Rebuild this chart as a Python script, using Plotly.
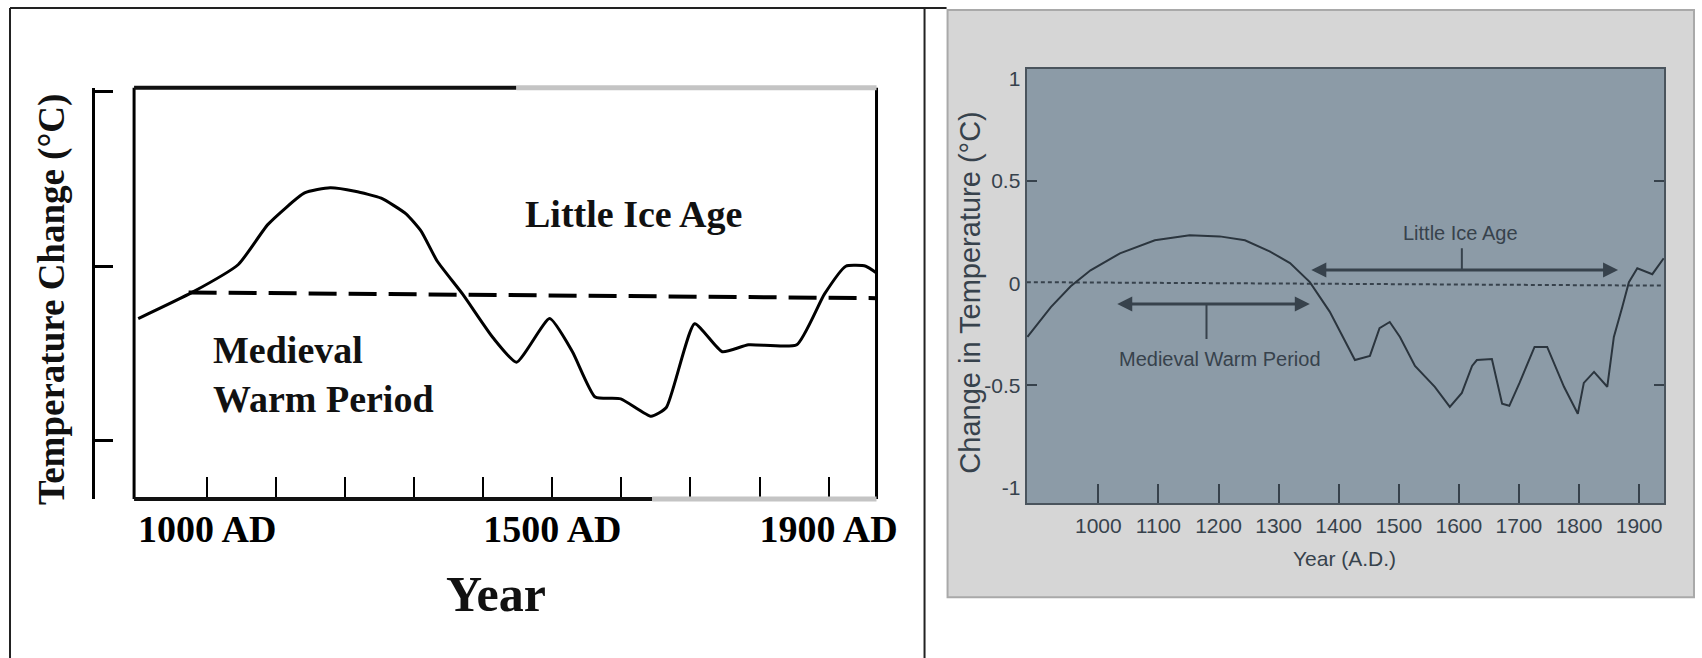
import plotly.graph_objects as go

W, H = 1702, 658
FIG_W = 1724  # rendered width; the photographed page is squeezed back to 1702

# ---------------- LEFT CHART DATA (schematic, arbitrary units) ----------------
left_years = [900, 978, 1045, 1088, 1141, 1178, 1214, 1252, 1288, 1310, 1333, 1370,
              1414, 1448, 1496, 1529, 1562, 1599, 1643, 1665, 1706, 1746, 1784, 1854,
              1894, 1925, 1954, 1970]
left_temp = [-0.30, -0.15, 0.01, 0.24, 0.42, 0.45, 0.43, 0.39, 0.30, 0.20, 0.03, -0.16,
             -0.41, -0.55, -0.30, -0.49, -0.75, -0.76, -0.86, -0.81, -0.33, -0.49, -0.45, -0.45,
             -0.16, 0.0, 0.0, -0.04]
left_ref_years = [973, 1969]
left_ref_vals = [-0.15, -0.183]
left_tick_years = [1000, 1100, 1200, 1300, 1400, 1500, 1600, 1700, 1800, 1900]
left_tick_text = ["1000 AD", "", "", "", "", "1500 AD", "", "", "", "1900 AD"]
left_ytick_vals = [-1, 0, 1]

# ---------------- RIGHT CHART DATA ----------------
right_years = [882, 921, 954, 987, 1036, 1094, 1152, 1202, 1244, 1285, 1319, 1352,
               1385, 1410, 1427, 1452, 1468, 1485, 1502, 1527, 1560, 1585, 1605, 1622,
               1630, 1655, 1672, 1684, 1701, 1726, 1747, 1775, 1798, 1808, 1825, 1847,
               1858, 1872, 1883, 1897, 1922, 1941]
right_temp = [-0.263, -0.117, -0.015, 0.063, 0.146, 0.21, 0.234, 0.229, 0.21, 0.156, 0.098, 0.005,
              -0.139, -0.283, -0.376, -0.356, -0.22, -0.19, -0.263, -0.405, -0.507, -0.605, -0.537, -0.405,
              -0.376, -0.371, -0.59, -0.6, -0.488, -0.312, -0.312, -0.507, -0.639, -0.488, -0.434, -0.507,
              -0.263, -0.117, 0.005, 0.073, 0.044, 0.122]
right_ref_years = [881, 1941]
right_ref_vals = [0.005, -0.012]
right_tick_years = [1000, 1100, 1200, 1300, 1400, 1500, 1600, 1700, 1800, 1900]
right_ytick_vals = [-1, -0.5, 0, 0.5, 1]
right_ytick_text = ["-1", "-0.5", "0", "0.5", "1"]
right_minor_ticks = [-0.5, 0.5]
lia_span = [1352, 1865]
lia_level = 0.065
lia_stem = [0.065, 0.171]
lia_stem_year = 1605
mwp_span = [1029, 1352]
mwp_level = -0.102
mwp_stem = [-0.102, -0.273]
mwp_stem_year = 1180

SERIF = "Liberation Serif, Times New Roman, serif"
SANS = "Liberation Sans, Arial, sans-serif"
INK = "#37424c"
CURVE = "#2b353e"
PLOTBG = "#8c9ba7"
PANEL = "#d6d6d6"


def px(x):
    return x / W


def py(y):
    return 1 - y / H


fig = go.Figure()

# Left curve + dashed reference
fig.add_trace(go.Scatter(x=left_years, y=left_temp, mode="lines",
                         line=dict(color="black", width=3, shape="spline", smoothing=0.5),
                         xaxis="x", yaxis="y", hoverinfo="skip"))
fig.add_trace(go.Scatter(x=left_ref_years, y=left_ref_vals, mode="lines",
                         line=dict(color="black", width=4, dash="28px,12px"),
                         xaxis="x", yaxis="y", hoverinfo="skip"))
# placeholder trace so the detached left y-axis gets drawn
fig.add_trace(go.Scatter(x=[None], y=[None], mode="lines", xaxis="x", yaxis="y3", hoverinfo="skip"))

# Right curve + dotted zero line
fig.add_trace(go.Scatter(x=right_ref_years, y=right_ref_vals, mode="lines",
                         line=dict(color=INK, width=2, dash="4px,3px"),
                         xaxis="x2", yaxis="y2", hoverinfo="skip"))
fig.add_trace(go.Scatter(x=right_years, y=right_temp, mode="lines",
                         line=dict(color=CURVE, width=2),
                         xaxis="x2", yaxis="y2", hoverinfo="skip"))
fig.add_trace(go.Scatter(x=[lia_stem_year, lia_stem_year], y=lia_stem, mode="lines",
                         line=dict(color=INK, width=2), xaxis="x2", yaxis="y2", hoverinfo="skip"))
fig.add_trace(go.Scatter(x=[mwp_stem_year, mwp_stem_year], y=mwp_stem, mode="lines",
                         line=dict(color=INK, width=2), xaxis="x2", yaxis="y2", hoverinfo="skip"))
fig.add_trace(go.Scatter(x=[None], y=[None], mode="lines", xaxis="x2", yaxis="y4", hoverinfo="skip"))
fig.add_trace(go.Scatter(x=[None], y=[None], mode="lines", xaxis="x2", yaxis="y5", hoverinfo="skip"))

left_xrange = [894, 1969.5]
left_yrange = [-1.334, 1.023]
right_xrange = [880.6, 1941.4]
right_yrange = [-1.078, 1.049]

ldom_x = [px(134), px(876)]
ldom_y = [py(498.5), py(86)]
rdom_x = [px(1026), px(1663)]
rdom_y = [py(503), py(67)]

fig.update_layout(
    width=FIG_W, height=H, autosize=False,
    margin=dict(l=0, r=0, t=0, b=0),
    paper_bgcolor="white", plot_bgcolor="rgba(0,0,0,0)",
    showlegend=False,
    xaxis=dict(domain=ldom_x, range=left_xrange, anchor="y", showgrid=False, zeroline=False,
               showline=False, ticks="inside", ticklen=22, tickwidth=2, tickcolor="black",
               tickvals=left_tick_years, ticktext=left_tick_text, ticklabelstandoff=4,
               tickfont=dict(family=SERIF, size=38, color="black", weight=700)),
    yaxis=dict(domain=ldom_y, range=left_yrange, anchor="x", showgrid=False, zeroline=False,
               showline=False, ticks="", showticklabels=False),
    yaxis3=dict(overlaying="y", anchor="free", position=px(93), side="left", range=left_yrange,
                showgrid=False, zeroline=False, showline=True, linecolor="black", linewidth=2.5,
                ticks="inside", ticklen=18, tickwidth=3, tickcolor="black",
                tickvals=left_ytick_vals, showticklabels=False),
    xaxis2=dict(domain=rdom_x, range=right_xrange, anchor="y2", showgrid=False, zeroline=False,
                showline=True, mirror=True, linecolor="#4a545d", linewidth=2,
                ticks="inside", ticklen=19, tickwidth=2, tickcolor=INK,
                tickvals=right_tick_years, ticklabelstandoff=2,
                tickfont=dict(family=SANS, size=21, color=INK)),
    yaxis2=dict(domain=rdom_y, range=right_yrange, anchor="x2", showgrid=False, zeroline=False,
                showline=True, mirror=True, linecolor="#4a545d", linewidth=2,
                ticks="", tickvals=right_ytick_vals, ticktext=right_ytick_text,
                tickfont=dict(family=SANS, size=21, color=INK)),
    yaxis4=dict(overlaying="y2", anchor="x2", side="left", range=right_yrange, showgrid=False,
                zeroline=False, showline=False, ticks="inside", ticklen=10, tickwidth=2,
                tickcolor=INK, tickvals=right_minor_ticks, showticklabels=False),
    yaxis5=dict(overlaying="y2", anchor="x2", side="right", range=right_yrange, showgrid=False,
                zeroline=False, showline=False, ticks="inside", ticklen=10, tickwidth=2,
                tickcolor=INK, tickvals=right_minor_ticks, showticklabels=False),
)

shapes = []
# page frame lines
shapes.append(dict(type="line", xref="paper", yref="paper", x0=px(10), x1=px(946), y0=py(6), y1=py(6),
                   line=dict(color="#222", width=2)))
shapes.append(dict(type="line", xref="paper", yref="paper", x0=px(10), x1=px(10), y0=py(6), y1=0,
                   line=dict(color="#222", width=2)))
shapes.append(dict(type="line", xref="paper", yref="paper", x0=px(924), x1=px(924), y0=py(6), y1=0,
                   line=dict(color="#222", width=2)))
# right photo panel
shapes.append(dict(type="rect", xref="paper", yref="paper", x0=px(947), x1=px(1693), y0=py(597), y1=py(8),
                   fillcolor=PANEL, line=dict(color="#a9a9a9", width=2), layer="below"))
shapes.append(dict(type="rect", xref="x2 domain", yref="y2 domain", x0=0, x1=1, y0=0, y1=1,
                   fillcolor=PLOTBG, line=dict(width=0), layer="below"))
# left frame (scan: parts of top/bottom lighter)
shapes += [
    dict(type="line", xref="x domain", yref="y domain", x0=0, x1=0, y0=0, y1=1, line=dict(color="black", width=3)),
    dict(type="line", xref="x domain", yref="y domain", x0=1, x1=1, y0=0, y1=1, line=dict(color="black", width=3)),
    dict(type="line", xref="x domain", yref="y domain", x0=0, x1=0.515, y0=1, y1=1, line=dict(color="#111", width=4)),
    dict(type="line", xref="x domain", yref="y domain", x0=0.515, x1=1, y0=1, y1=1, line=dict(color="#c4c4c4", width=5)),
    dict(type="line", xref="x domain", yref="y domain", x0=0, x1=0.698, y0=0, y1=0, line=dict(color="#111", width=4)),
    dict(type="line", xref="x domain", yref="y domain", x0=0.698, x1=1, y0=0, y1=0, line=dict(color="#c4c4c4", width=5)),
]
fig.update_layout(shapes=shapes)

ann = []
# left chart texts
ann.append(dict(text="Little Ice Age", x=1617, y=0.30, xref="x", yref="y", showarrow=False,
                xanchor="center", yanchor="middle",
                font=dict(family=SERIF, size=38, color="#111", weight=700)))
ann.append(dict(text="Medieval<br>Warm Period", x=1006, y=-0.62, xref="x", yref="y", showarrow=False,
                xanchor="left", yanchor="middle", align="left",
                font=dict(family=SERIF, size=38, color="#111", weight=700)))
ann.append(dict(text="Temperature Change (°C)", x=px(52), y=py(299), xref="paper", yref="paper",
                showarrow=False, textangle=-90, xanchor="center", yanchor="middle",
                font=dict(family=SERIF, size=37, color="#111", weight=700)))
ann.append(dict(text="Year", x=px(496), y=py(594), xref="paper", yref="paper", showarrow=False,
                xanchor="center", yanchor="middle",
                font=dict(family=SERIF, size=50, color="#111", weight=700)))
# right chart texts
ann.append(dict(text="Change in Temperature (°C)", x=px(970), y=py(292), xref="paper", yref="paper",
                showarrow=False, textangle=-90, xanchor="center", yanchor="middle",
                font=dict(family=SANS, size=29, color=INK)))
ann.append(dict(text="Year (A.D.)", x=px(1344), y=py(558), xref="paper", yref="paper", showarrow=False,
                xanchor="center", yanchor="middle",
                font=dict(family=SANS, size=21, color=INK)))
ann.append(dict(text="Little Ice Age", x=1603, y=0.245, xref="x2", yref="y2", showarrow=False,
                xanchor="center", yanchor="middle",
                font=dict(family=SANS, size=20, color=INK)))
ann.append(dict(text="Medieval Warm Period", x=1202, y=-0.371, xref="x2", yref="y2", showarrow=False,
                xanchor="center", yanchor="middle",
                font=dict(family=SANS, size=20, color=INK)))
# double-headed arrows
for span, lvl in ((lia_span, lia_level), (mwp_span, mwp_level)):
    ann.append(dict(text="", x=span[1], y=lvl, ax=span[0], ay=lvl, xref="x2", yref="y2",
                    axref="x2", ayref="y2", showarrow=True, arrowhead=2, startarrowhead=2,
                    arrowside="end+start", arrowwidth=3, arrowsize=1, startarrowsize=1,
                    arrowcolor=INK, standoff=0, startstandoff=0))
fig.update_layout(annotations=ann)

fig.write_html(
    "out.html",
    config={"displayModeBar": False},
    post_script="document.body.style.margin='0';",
)
